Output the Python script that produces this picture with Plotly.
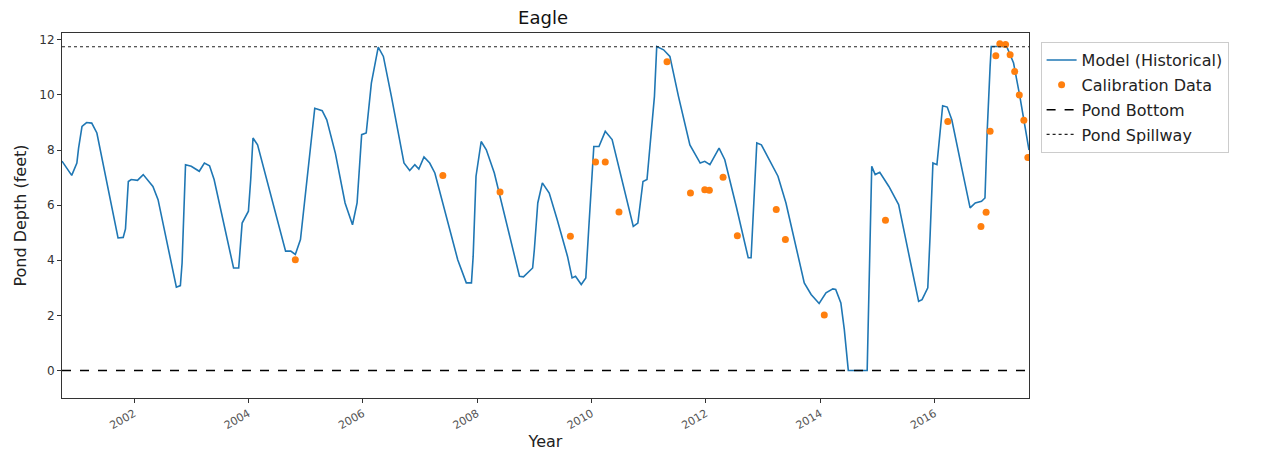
import plotly.graph_objects as go

# Model (Historical) — decimal year vs pond depth (feet)
model_year = [2000.74, 2000.91, 2001.00, 2001.03, 2001.09, 2001.17, 2001.26, 2001.35, 2001.72, 2001.81,
              2001.85, 2001.90, 2001.95, 2002.06, 2002.16, 2002.33, 2002.42, 2002.74, 2002.81, 2002.84,
              2002.90, 2003.00, 2003.14, 2003.23, 2003.32, 2003.40, 2003.74, 2003.83, 2003.89, 2003.95,
              2004.00, 2004.04, 2004.08, 2004.16, 2004.65, 2004.74, 2004.82, 2004.91, 2005.06, 2005.16,
              2005.29, 2005.37, 2005.52, 2005.69, 2005.82, 2005.90, 2005.98, 2006.06, 2006.15, 2006.27,
              2006.36, 2006.50, 2006.72, 2006.82, 2006.91, 2006.98, 2007.07, 2007.17, 2007.26, 2007.66,
              2007.81, 2007.90, 2007.93, 2007.98, 2008.07, 2008.16, 2008.30, 2008.74, 2008.81, 2008.97,
              2009.00, 2009.06, 2009.14, 2009.26, 2009.40, 2009.58, 2009.66, 2009.72, 2009.82, 2009.90,
              2009.95, 2010.04, 2010.13, 2010.24, 2010.36, 2010.73, 2010.81, 2010.90, 2010.97, 2011.03,
              2011.10, 2011.14, 2011.26, 2011.37, 2011.52, 2011.72, 2011.90, 2011.98, 2012.07, 2012.23,
              2012.33, 2012.53, 2012.74, 2012.79, 2012.85, 2012.89, 2012.97, 2013.14, 2013.26, 2013.40,
              2013.58, 2013.72, 2013.84, 2013.98, 2014.10, 2014.22, 2014.27, 2014.36, 2014.42, 2014.49,
              2014.82, 2014.85, 2014.90, 2014.96, 2015.04, 2015.20, 2015.37, 2015.58, 2015.72, 2015.78,
              2015.88, 2015.92, 2015.97, 2016.04, 2016.09, 2016.14, 2016.22, 2016.30, 2016.48, 2016.62,
              2016.71, 2016.82, 2016.88, 2016.92, 2016.97, 2016.99, 2017.26, 2017.38, 2017.49, 2017.65]
model_depth = [7.60, 7.08, 7.53, 8.07, 8.86, 9.00, 8.98, 8.62, 4.81, 4.83,
               5.14, 6.86, 6.93, 6.90, 7.11, 6.68, 6.20, 3.02, 3.08, 3.90,
               7.47, 7.41, 7.23, 7.53, 7.43, 6.93, 3.72, 3.72, 5.35, 5.60,
               5.78, 6.93, 8.44, 8.19, 4.33, 4.33, 4.21, 4.75, 7.53, 9.52,
               9.43, 9.10, 7.89, 6.08, 5.29, 6.08, 8.56, 8.62, 10.43, 11.74,
               11.40, 9.95, 7.53, 7.26, 7.47, 7.31, 7.75, 7.53, 7.17, 4.02,
               3.18, 3.18, 4.14, 7.05, 8.31, 8.01, 7.17, 3.42, 3.40, 3.72,
               4.39, 6.08, 6.81, 6.44, 5.47, 4.14, 3.36, 3.42, 3.12, 3.36,
               5.11, 8.13, 8.13, 8.68, 8.38, 5.23, 5.35, 6.86, 6.93, 8.26,
               9.95, 11.76, 11.64, 11.40, 9.95, 8.19, 7.53, 7.59, 7.47, 8.07,
               7.65, 5.96, 4.09, 4.09, 6.56, 8.26, 8.19, 7.53, 7.05, 6.08,
               4.51, 3.18, 2.76, 2.43, 2.82, 2.96, 2.94, 2.45, 1.49, 0.00,
               0.00, 2.69, 7.41, 7.11, 7.19, 6.68, 6.02, 3.90, 2.51, 2.57,
               3.00, 4.87, 7.53, 7.47, 8.50, 9.61, 9.56, 9.10, 7.29, 5.90,
               6.08, 6.14, 6.26, 8.74, 11.03, 11.76, 11.76, 11.16, 9.95, 8.00]

# Calibration data
calib_year = [2004.82, 2007.40, 2008.40, 2009.63, 2010.07, 2010.24, 2010.48, 2011.32, 2011.73, 2011.98,
              2012.06, 2012.30, 2012.55, 2013.23, 2013.39, 2014.07, 2015.14, 2016.23, 2016.81, 2016.90,
              2016.97, 2017.07, 2017.14, 2017.24, 2017.32, 2017.40, 2017.48, 2017.56, 2017.63]
calib_depth = [4.02, 7.08, 6.48, 4.87, 7.57, 7.57, 5.75, 11.21, 6.44, 6.56,
               6.54, 7.01, 4.89, 5.84, 4.75, 2.01, 5.45, 9.04, 5.23, 5.74,
               8.68, 11.42, 11.86, 11.83, 11.46, 10.85, 10.00, 9.08, 7.73]

pond_bottom = 0.0
pond_spillway = 11.75
x_range = [2000.74, 2017.65]
y_range = [-1.0, 12.25]
x_ticks = [2002, 2004, 2006, 2008, 2010, 2012, 2014, 2016]
y_ticks = [0, 2, 4, 6, 8, 10, 12]

FONT = "DejaVu Sans"

fig = go.Figure()
fig.add_trace(go.Scatter(x=model_year, y=model_depth, mode="lines", name="Model (Historical)",
                         line=dict(color="#1f77b4", width=1.6), legendgroup="a"))
fig.add_trace(go.Scatter(x=calib_year, y=calib_depth, mode="markers", name="Calibration Data",
                         marker=dict(color="#ff7f0e", size=7), legendgroup="b"))
fig.add_trace(go.Scatter(x=x_range, y=[pond_bottom, pond_bottom], mode="lines", name="Pond Bottom",
                         line=dict(color="black", width=1.5, dash="dash"), legendgroup="c"))
fig.add_trace(go.Scatter(x=x_range, y=[pond_spillway, pond_spillway], mode="lines", name="Pond Spillway",
                         line=dict(color="#222222", width=1.2, dash="dot"), legendgroup="d"))

fig.update_layout(
    width=1263, height=456,
    margin=dict(l=49, r=242, t=25, b=66),
    paper_bgcolor="white", plot_bgcolor="white",
    font=dict(family=FONT, color="#222222"),
    title=dict(text="Eagle", x=(543 - 8) / 1263, xanchor="center", y=1 - 10 / 456, yanchor="middle",
               font=dict(size=18, family=FONT, color="#111111")),
    showlegend=True,
    legend=dict(x=1.012, y=0.975, xanchor="left", yanchor="top",
                bordercolor="#cccccc", borderwidth=1, bgcolor="white",
                font=dict(size=16, family=FONT, color="#222222"),
                tracegroupgap=1, entrywidth=170, entrywidthmode="pixels"),
)
fig.update_xaxes(range=x_range, tickvals=x_ticks, ticktext=[str(t) for t in x_ticks],
                 tickangle=-30, tickfont=dict(size=11, color="#555555"),
                 ticks="outside", ticklen=4, tickcolor="#333333",
                 showgrid=False, zeroline=False, showline=True, linecolor="#333333", linewidth=1, mirror=True,
                 title=dict(text="Year", font=dict(size=16, family=FONT, color="#222222"), standoff=4))
fig.update_yaxes(range=y_range, tickvals=y_ticks, tickfont=dict(size=12, color="#333333"),
                 ticks="outside", ticklen=4, tickcolor="#333333",
                 showgrid=False, zeroline=False, showline=True, linecolor="#333333", linewidth=1, mirror=True,
                 title=dict(text="Pond Depth (feet)", font=dict(size=16, family=FONT, color="#222222"), standoff=8))

fig.write_html("out.html")
